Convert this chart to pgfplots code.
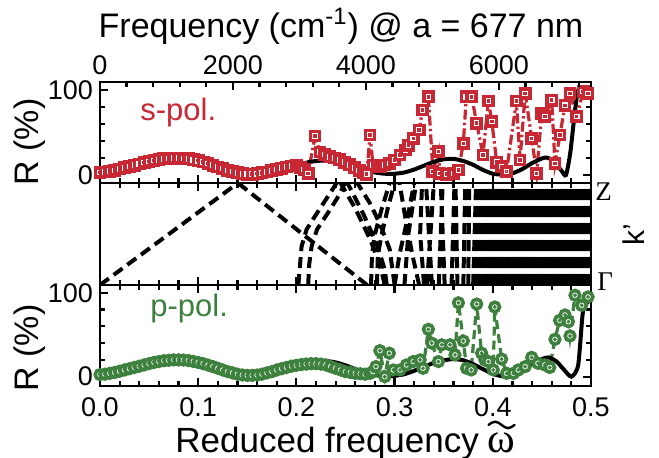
\documentclass[border=0pt]{standalone}
\usepackage{fontspec}
\setmainfont{Liberation Sans}
\newfontfamily\serif{Liberation Serif}
\usepackage{pgfplots}
\usepackage{pgfplotstable}
\pgfplotsset{compat=1.18}
\definecolor{spol}{RGB}{200,40,52}
\definecolor{ppol}{RGB}{62,128,62}

\pgfdeclareplotmark{sqdot}{%
  \pgfpathrectangle{\pgfqpoint{-\pgfplotmarksize}{-\pgfplotmarksize}}{\pgfqpoint{2\pgfplotmarksize}{2\pgfplotmarksize}}%
  \pgfusepathqfillstroke
  \begin{pgfscope}\pgfsetlinewidth{0.8bp}%
  \pgfpathrectangle{\pgfqpoint{-0.2\pgfplotmarksize}{-0.2\pgfplotmarksize}}{\pgfqpoint{0.4\pgfplotmarksize}{0.4\pgfplotmarksize}}%
  \pgfusepathqstroke
  \end{pgfscope}}
\pgfdeclareplotmark{cidot}{%
  \pgfpathcircle{\pgfpointorigin}{\pgfplotmarksize}%
  \pgfusepathqfillstroke
  \begin{pgfscope}\pgfsetlinewidth{0.8bp}%
  \pgfpathcircle{\pgfpointorigin}{0.2\pgfplotmarksize}%
  \pgfusepathqstroke
  \end{pgfscope}}

\pgfplotstableread{
x y
0.000 3
0.005 3.5
0.010 4.5
0.015 5.5
0.020 7
0.025 8.5
0.030 10
0.035 11.5
0.040 13
0.045 14.5
0.050 16
0.055 17
0.060 18
0.065 19
0.070 19.5
0.075 19.8
0.080 19.8
0.085 19.5
0.090 19
0.095 18
0.100 16.8
0.105 15.2
0.110 13.5
0.115 11.5
0.120 9.5
0.125 7.5
0.130 5.5
0.135 4
0.140 2.5
0.145 1.5
0.150 1
0.155 1
0.160 1.5
0.165 2.5
0.170 3.5
0.175 5
0.180 6.5
0.185 8
0.190 9.5
0.195 10.5
0.200 11
0.204 9
0.208 6.7
0.212 2
0.219 46
0.224 27
0.229 24
0.234 21.5
0.239 20
0.244 18
0.249 15
0.254 12
0.259 8.5
0.264 5.5
0.268 3
0.2716 1
0.275 47
0.278 11.7
0.282 9.8
0.286 10
0.290 11.8
0.295 13.7
0.300 17.6
0.3055 23.5
0.311 29.4
0.314 35
0.319 43
0.325 53
0.3285 76.5
0.3344 92
0.339 4
0.3446 27.5
0.346 2
0.353 1
0.360 2
0.365 6
0.370 37
0.373 92
0.3785 92
0.3836 61
0.390 23.5
0.3955 87
0.399 63
0.404 15
0.409 9.8
0.414 4
0.424 87
0.4277 17.6
0.433 96
0.4396 43
0.4447 2
0.4498 72.6
0.453 68.6
0.460 88
0.4633 13.7
0.4684 47
0.4735 82
0.4786 96
0.4855 68.6
0.492 98
0.497 96
}\sdata

\pgfplotstableread{
x y
0.00 2
0.01 3.5
0.02 5.5
0.03 8
0.04 10.5
0.05 13
0.06 15
0.07 16.3
0.08 16.5
0.09 16
0.10 14.5
0.11 12
0.12 9
0.13 6
0.14 3.5
0.15 1.5
0.16 1
0.17 2
0.18 4
0.19 7
0.20 11
0.21 14.5
0.22 16.5
0.23 17
0.24 16
0.25 13
0.26 9.5
0.27 6
0.28 3
0.29 1.5
0.30 1.5
0.31 3
0.32 6.5
0.33 11
0.34 15.5
0.35 18.5
0.36 19
0.37 16.5
0.38 12
0.39 6
0.40 1.5
0.41 0.5
0.42 2
0.43 7
0.44 14
0.45 19.5
0.455 20.5
0.46 18
0.465 12
0.47 5
0.4745 0
0.479 27
0.487 100
0.50 100
}\stheory

\pgfplotstableread{
x y
0.000 2.5
0.005 3
0.010 4
0.015 5
0.020 6.5
0.025 8
0.030 9.5
0.035 11
0.040 12.5
0.045 14
0.050 15.5
0.055 17
0.060 18
0.065 19
0.070 19.5
0.075 20
0.080 20
0.085 19.8
0.090 19.2
0.095 18.2
0.100 17
0.105 15.5
0.110 13.8
0.115 12
0.120 10
0.125 8
0.130 6
0.135 4.5
0.140 3
0.145 2
0.150 1.5
0.155 1.5
0.160 2
0.165 3
0.170 4.5
0.175 6
0.180 8
0.185 9.5
0.190 11
0.195 12.5
0.200 13.5
0.205 14.5
0.210 15
0.215 15.5
0.220 15.5
0.225 15
0.230 14
0.235 12
0.240 10
0.245 8
0.250 6
0.255 5
0.260 4
0.265 3.5
0.270 3
0.275 4
0.278 6
0.281 12
0.285 31
0.290 0
0.2946 28
0.2987 8
0.3055 8
0.312 14
0.319 18
0.326 20
0.329 10
0.3344 56.4
0.3378 40
0.3446 18
0.348 38
0.3564 38
0.3615 26
0.365 88
0.370 42.5
0.3733 10
0.378 8
0.3836 86.5
0.3886 28
0.392 20
0.3955 18
0.4005 8
0.402 83
0.409 21
0.4141 4
0.421 4
0.426 8
0.433 12
0.4396 23
0.446 16
0.453 14
0.458 11
0.4633 44.5
0.468 67
0.4735 73.5
0.477 65.5
0.4786 48.5
0.4837 97
0.4905 85
0.497 95
}\pdata

\pgfplotstableread{
x y
0.00 1
0.01 2.5
0.02 4.5
0.03 7
0.04 9.5
0.05 12
0.06 14
0.07 15.5
0.08 16
0.09 15.5
0.10 14
0.11 11.5
0.12 8.5
0.13 5.5
0.14 2.5
0.15 1
0.16 1
0.17 2
0.18 4.5
0.19 8
0.20 12
0.21 15.5
0.22 18
0.23 18.7
0.24 17
0.25 13.5
0.26 9
0.27 5
0.28 2
0.29 0.5
0.30 1
0.31 3
0.32 7
0.33 12
0.34 16.5
0.35 19.5
0.36 21
0.37 19.5
0.38 15
0.39 9
0.40 3.5
0.41 0.5
0.42 2
0.43 7
0.44 15
0.45 21
0.457 23
0.465 18
0.472 9
0.48 0
0.487 14
0.492 79
0.499 91
}\ptheory

\pgfplotstableread{
x y
0 0
0.1405 1
nan nan
0.272 0
0.1405 1
nan nan
0.202 0
0.2037 0.2
0.2053 0.38
0.2104 0.545
0.2223 0.725
0.2325 0.874
0.241 1
nan nan
0.212 0
0.213 0.2
0.2155 0.38
0.221 0.545
0.233 0.72
0.2415 0.85
0.2495 1
nan nan
0.290 0
0.285 0.2
0.275 0.45
0.260 0.75
0.245 1
nan nan
0.292 0
0.290 0.15
0.282 0.4
0.268 0.7
0.252 1
nan nan
0.300 0
0.295 0.35
0.285 0.6
0.275 0.8
0.262 1
nan nan
0.276 0
0.277 0.3
0.280 0.5
0.287 0.75
0.295 1
nan nan
0.282 0
0.283 0.3
0.287 0.5
0.293 0.75
0.300 1
nan nan
0.300 0
0.305 0.3
0.312 0.6
0.320 1
nan nan
0.325 0
0.318 0.3
0.312 0.6
0.305 1
nan nan
0.310 0
0.314 0.5
0.322 1
nan nan
0.330 0
0.326 0.5
0.328 1
nan nan
0.333 0
0.340 1
nan nan
0.338 0
0.332 1
nan nan
0.345 0
0.349 1
nan nan
0.351 0
0.347 1
nan nan
0.358 0
0.361 1
nan nan
0.364 0
0.362 1
nan nan
0.370 0
0.372 1
nan nan
0.375 0
0.376 1
nan nan
0.380 0
0.383 1
nan nan
0.3835 0
0.3855 1
nan nan
0.387 0
0.389 1
nan nan
0.391 0
0.392 1
nan nan
0.394 0
0.395 1
nan nan
0.3965 0
0.397 1
nan nan
0.399 0
0.400 1
nan nan
0.4015 0
0.4025 1
nan nan
0.404 0
0.405 1
nan nan
0.4065 0
0.4075 1
nan nan
0.409 0
0.410 1
nan nan
0.4115 0
0.4125 1
nan nan
0.414 0
0.415 1
nan nan
0.4165 0
0.4175 1
nan nan
0.419 0
0.420 1
nan nan
0.4215 0
0.4225 1
nan nan
0.424 0
0.425 1
nan nan
0.4265 0
0.4275 1
nan nan
0.429 0
0.430 1
nan nan
0.4315 0
0.4325 1
nan nan
0.434 0
0.435 1
nan nan
0.4365 0
0.4375 1
nan nan
0.4395 0
0.440 1
nan nan
0.442 0
0.4425 1
nan nan
0.4445 0
0.445 1
nan nan
0.447 0
0.4475 1
nan nan
0.4495 0
0.450 1
nan nan
0.452 0
0.4525 1
nan nan
0.4545 0
0.455 1
nan nan
0.457 0
0.4575 1
nan nan
0.4595 0
0.460 1
nan nan
0.462 0
0.4625 1
nan nan
0.4645 0
0.465 1
nan nan
0.467 0
0.4675 1
nan nan
0.4695 0
0.470 1
nan nan
0.472 0
0.4725 1
nan nan
0.4745 0
0.475 1
nan nan
0.477 0
0.4775 1
nan nan
0.4795 0
0.480 1
nan nan
0.482 0
0.4825 1
nan nan
0.4845 0
0.485 1
nan nan
0.487 0
0.4875 1
nan nan
0.4895 0
0.490 1
nan nan
0.492 0
0.4925 1
nan nan
0.4945 0
0.495 1
nan nan
0.497 0
0.4975 1
nan nan
0.4995 0
0.500 1
}\bands

\pgfplotsset{
  panel/.style={
    scale only axis, width=245.5bp, xmin=0, xmax=0.5, anchor=south west,
    tick align=inside,
    axis line style={line width=1.3bp},
    every tick/.style={black, line width=1.1bp},
    major tick length=4bp, minor tick length=2.5bp,
    xtick={0,0.1,0.2,0.3,0.4,0.5}, minor x tick num=4,
    tick label style={font=\fontsize{13.5bp}{16bp}\selectfont},
  },
  sqmark/.style={spol, line width=1.6bp, dash pattern=on 5bp off 1.6bp on 1.2bp off 1.6bp,
    mark=sqdot, mark size=2.3bp, mark options={solid, fill=white, draw=spol, line width=1.8bp}},
  cimark/.style={ppol, line width=1.6bp, dash pattern=on 4.5bp off 2.5bp,
    mark=cidot, mark size=2.4bp, mark options={solid, fill=white, draw=ppol, line width=1.8bp}},
}

\begin{document}
\begin{tikzpicture}
\useasboundingbox (0,0) rectangle (329.5bp,-229bp);

% top panel: s-pol
\begin{axis}[panel, at={(50bp,-91.5bp)}, height=50.5bp,
  ymin=-9.4, ymax=109.4, ytick={0,100}, yticklabels={0,100}, minor y tick num=4,
  xtick pos=left, xticklabels={}]
\addplot[sqmark] table[x=x,y=y] {\sdata};
\addplot[black, line width=2bp, no marks, smooth, tension=0.4] table[x=x,y=y] {\stheory};
\end{axis}

% frequency axis on top
\begin{axis}[scale only axis, width=245.5bp, height=50.5bp, at={(50bp,-91.5bp)}, anchor=south west,
  xmin=0, xmax=7385.5, ymin=0, ymax=1,
  axis x line*=top, axis y line=none,
  xtick={0,2000,4000,6000}, xticklabels={0,2000,4000,6000},
  minor xtick={400,800,...,7200},
  tick align=inside, major tick length=4bp, minor tick length=2.5bp,
  every tick/.style={black, line width=1.1bp},
  axis line style={line width=1.3bp},
  tick label style={font=\fontsize{13.5bp}{16bp}\selectfont}]
\addplot[draw=none] coordinates {(0,0.5)};
\end{axis}

% middle panel: bands
\begin{axis}[panel, at={(50bp,-142.5bp)}, height=51bp,
  ymin=0, ymax=1, ytick=\empty, xticklabels={}, unbounded coords=jump]
\addplot[black, line width=2bp, no marks, dash pattern=on 5.5bp off 3bp] table[x=x,y=y] {\bands};
\end{axis}

% bottom panel: p-pol
\begin{axis}[panel, at={(50bp,-193bp)}, height=50.5bp,
  ymin=-11.1, ymax=109.2, ytick={0,100}, yticklabels={0,100}, minor y tick num=4,
  xticklabels={0.0,0.1,0.2,0.3,0.4,0.5}, xticklabel style={yshift=-2.5bp}]
\addplot[cimark] table[x=x,y=y] {\pdata};
\addplot[black, line width=2bp, no marks, smooth, tension=0.4] table[x=x,y=y] {\ptheory};
\end{axis}

% texts
\node[anchor=base, font=\fontsize{17bp}{20bp}\selectfont] at (170.5bp,-18.5bp) {Frequency (cm\textsuperscript{-1}) @ a = 677 nm};
\node[anchor=base west, inner sep=0pt, font=\fontsize{17.5bp}{20bp}\selectfont] (xl) at (87.5bp,-226bp) {Reduced frequency};
\node[anchor=base west, inner sep=0pt, xshift=4bp, font=\serif\fontsize{21bp}{24bp}\selectfont] (om) at (xl.base east) {ω};
\draw[line width=1.2bp, line cap=round] ([xshift=-6.5bp,yshift=3.5bp]om.north) sin +(3.25bp,1.6bp) cos +(3.25bp,-1.6bp) sin +(3.25bp,-1.6bp) cos +(3.25bp,1.6bp);
\node[rotate=90, font=\fontsize{17bp}{20bp}\selectfont] at (15bp,-71bp) {R (\%)};
\node[rotate=90, font=\fontsize{17bp}{20bp}\selectfont] at (15bp,-174bp) {R (\%)};
\node[anchor=base west, inner sep=0pt, text=spol, font=\fontsize{15.5bp}{18bp}\selectfont] at (70bp,-60bp) {s-pol.};
\node[anchor=base west, inner sep=0pt, text=ppol, font=\fontsize{15.5bp}{18bp}\selectfont] at (75bp,-158.3bp) {p-pol.};
\node[anchor=base west, inner sep=0pt, font=\serif\fontsize{13.5bp}{16bp}\selectfont] at (297.5bp,-100bp) {Z};
\node[anchor=base west, inner sep=0pt, font=\serif\fontsize{13.5bp}{16bp}\selectfont] at (298.5bp,-145bp) {Γ};
\node[rotate=90, inner sep=0pt, font=\fontsize{15bp}{18bp}\selectfont] at (317bp,-117.5bp) {k'};
\end{tikzpicture}
\end{document}
